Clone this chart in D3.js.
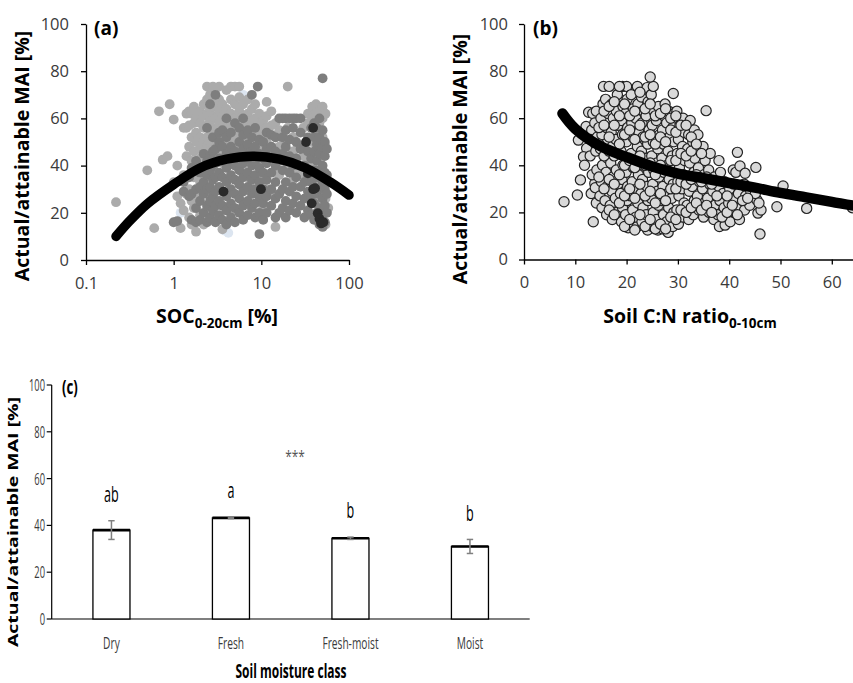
<!DOCTYPE html>
<html><head><meta charset="utf-8">
<script src="https://cdn.jsdelivr.net/npm/d3@7"></script>
<style>
html,body{margin:0;padding:0;background:#fff;}
svg{display:block;font-family:"Open Sans",sans-serif;}
</style></head>
<body>
<svg id="chart" width="853" height="683"></svg>
<script>
// ---------------- DATA ----------------
const yTicks = [0, 20, 40, 60, 80, 100];
const xTicksA = [0.1, 1, 10, 100];
const xTickLabelsA = ["0.1", "1", "10", "100"];
const xTicksB = [0, 10, 20, 30, 40, 50, 60];

// Panel (a): SOC 0-20cm [%] vs Actual/attainable MAI [%]
const lightA = [
[0.22,24.5],[0.5,38],[0.6,13.5],[0.68,63],[0.75,42.5],[0.85,44],[0.9,66],[1.0,59.5],[1.0,33],[1.1,27],[1.1,40],[1.2,13.5],[1.2,24],[1.3,36],[1.3,21],[1.3,56],
[1.4,56],[1.4,62],[1.4,28],[1.4,44],[1.5,57],[1.5,63],[1.5,48],[1.5,30],[1.5,18],[1.6,62],[1.6,52],[1.6,42],[1.6,25],[1.6,15],
[1.7,65],[1.7,58],[1.7,46],[1.7,35],[1.7,22],[1.8,12],[1.8,60],[1.8,54],[1.8,50],[1.8,38],[1.8,28],
[2.0,63],[2.0,58],[2.0,52],[2.0,47],[2.0,43],[2.0,33],[2.0,19],
[2.2,66],[2.2,61],[2.2,56],[2.2,50],[2.2,45],[2.2,40],[2.2,36],[2.2,15],
[2.4,73.5],[2.4,68],[2.4,62],[2.4,57],[2.4,52],[2.4,48],[2.4,44],[2.4,30],
[2.6,70],[2.6,64],[2.6,59],[2.6,55],[2.6,50],[2.6,46],[2.6,41],[2.6,27],
[2.8,73.5],[2.8,67],[2.8,61],[2.8,56],[2.8,52],[2.8,47],[2.8,38],
[3.0,65],[3.0,60],[3.0,55],[3.0,50],[3.0,44],[3.0,18],
[3.3,73.5],[3.3,68],[3.3,63],[3.3,58],[3.3,53],[3.3,48],[3.3,43],
[3.6,66],[3.6,61],[3.6,56],[3.6,51],[3.6,46],[3.6,41],[3.6,13],
[4.0,72],[4.0,64],[4.0,59],[4.0,54],[4.0,49],[4.0,44],
[4.5,73.5],[4.5,68],[4.5,62],[4.5,57],[4.5,52],[4.5,47],[4.5,20],
[5.0,73.5],[5.0,66],[5.0,60],[5.0,55],[5.0,50],[5.0,45],[5.0,40],
[5.6,73.5],[5.6,69],[5.6,63],[5.6,58],[5.6,53],[5.6,48],
[6.2,66],[6.2,61],[6.2,56],[6.2,51],[6.2,38],
[7.0,68],[7.0,62],[7.0,57],[7.0,52],[7.0,46],[7.0,35],
[7.8,64],[7.8,59],[7.8,54],[7.8,48],[7.8,30],
[8.5,66],[8.5,60],[8.5,55],[8.5,50],[8.5,44],
[9.5,62],[9.5,57],[9.5,52],[9.5,40],[9.5,25],
[10.5,59],[10.5,54],[10.5,48],[10.5,36],[10.5,22],
[11.5,67],[11.5,61],[11.5,56],[11.5,50],[11.5,30],
[13,63],[13,57],[13,44],[13,28],
[14.5,58],[14.5,52],[14.5,38],[14.5,14],
[16,55],[16,48],[16,36],[18,50],[18,45],[20,73.5],[20,56],[20,40],[23,52],[23,46],[23,34],[26,48],[26,38],
[30,44],[30,36],[30,56],[34,62],[34,58],[34,42],[38,65],[38,60],[38,50],[38,40],
[42,66],[42,62],[42,54],[42,34],[42,24],[46,63],[46,58],[46,46],[46,28],[46,18],
[50,65],[50,60],[50,52],[50,44],[50,30],[50,22],[54,62],[54,48],[54,36],[54,26],[54,15],[58,22]
];
const blueA = [[1.2,20],[4.2,11.5],[6.2,70],[3.8,12.5]];
const midA = [
[1.0,16],[1.1,16.5],[1.3,29],[1.3,33],[1.5,27],[1.5,35],[1.6,17],[1.6,28],[1.6,39],
[1.8,16],[1.8,22],[1.8,30],[1.8,42],[2.0,17],[2.0,25],[2.0,31],[2.0,37],
[2.2,20],[2.2,28],[2.2,33],[2.2,39],[2.2,45],[2.4,16],[2.4,23],[2.4,30],[2.4,36],[2.4,42],[2.4,56],
[2.6,18],[2.6,25],[2.6,31],[2.6,38],[2.6,44],[2.6,66],[2.8,21],[2.8,27],[2.8,34],[2.8,40],[2.8,46],[2.8,52],
[3.0,16],[3.0,23],[3.0,29],[3.0,35],[3.0,41],[3.0,47],[3.0,70],
[3.3,19],[3.3,25],[3.3,31],[3.3,37],[3.3,43],[3.3,50],[3.3,54],
[3.6,17],[3.6,23],[3.6,29],[3.6,35],[3.6,42],[3.6,48],[3.6,55],
[4.0,15],[4.0,21],[4.0,27],[4.0,33],[4.0,39],[4.0,45],[4.0,52],[4.0,60],
[4.5,18],[4.5,24],[4.5,30],[4.5,36],[4.5,42],[4.5,48],[4.5,54],
[5.0,16],[5.0,22],[5.0,28],[5.0,34],[5.0,40],[5.0,46],[5.0,58],
[5.6,20],[5.6,26],[5.6,32],[5.6,38],[5.6,44],[5.6,50],[5.6,56],
[6.2,17],[6.2,23],[6.2,29],[6.2,35],[6.2,41],[6.2,47],[6.2,53],[6.2,60],
[7.0,19],[7.0,25],[7.0,31],[7.0,37],[7.0,43],[7.0,49],[7.0,55],
[7.8,22],[7.8,28],[7.8,34],[7.8,40],[7.8,46],[7.8,52],[7.8,70],
[8.5,18],[8.5,24],[8.5,30],[8.5,36],[8.5,42],[8.5,48],[8.5,56],
[9.5,11],[9.5,20],[9.5,27],[9.5,33],[9.5,39],[9.5,45],[9.5,51],[9.1,73.5],
[10.5,17],[10.5,24],[10.5,30],[10.5,37],[10.5,43],[10.5,50],
[11.5,20],[11.5,27],[11.5,34],[11.5,41],[11.5,47],[11.5,54],
[13,23],[13,30],[13,37],[13,48],[13,53],[14.5,18],[14.5,26],[14.5,33],[14.5,40],[14.5,46],[14.5,52],
[16,20],[16,28],[16,42],[16,60],[17.5,22],[17.5,30],[17.5,38],[17.5,45],[17.5,52],[17.5,60],
[19,18],[19,25],[19,33],[19,48],[19,55],[19,60],[21,21],[21,29],[21,37],[21,44],[21,51],[21,60],
[23,24],[23,31],[23,40],[23,56],[23,60],[25,20],[25,27],[25,35],[25,43],[25,50],[25,60],
[28,23],[28,31],[28,47],[28,54],[28,60],[31,18],[31,26],[31,33],[31,40],[31,48],
[34,21],[34,29],[34,36],[34,46],[34,52],[37,19],[37,27],[37,33],[37,43],[37,56],
[40,17],[40,24],[40,31],[40,38],[40,46],[40,52],[40,58],[43,20],[43,28],[43,35],[43,42],[43,49],[43,56],
[46,15],[46,22],[46,30],[46,38],[46,45],[46,52],[46,60],[50,14],[50,19],[50,26],[50,33],[50,40],[50,48],[50,55],
[53,16],[53,23],[53,30],[53,37],[53,44],[53,50],[56,20],[56,28],[56,36],[56,47],[50,77]
];
const darkA = [[3.7,29],[9.9,30],[32.3,50],[39,56],[34,36.7],[39,30],[41,30.4],[37.5,24],[44,19.8],[46,17.5],[48,15.5],[51,16]];
// fitted trend
const trendA = [[0.22,10],[0.316,16.6],[0.5,23.8],[1,32],[2,39],[4,42.7],[8,44],[16,42.7],[32,39],[63,32.7],[100,27.5]];

// Panel (b): Soil C:N ratio 0-10cm vs Actual/attainable MAI [%]
const ptsB = [
[7.8,24.5],[10.4,27.4],[11,33.8],[13.5,16],[10.6,50.7],[12.2,47.2],[11.6,43.6],[13.8,32.3],[14.2,28],[12.1,56.5],[12.6,62.5],[11.8,40],
[13.1,28],[13.3,36],[12.9,44],[13.2,55],[13.4,62],[13.0,51],
[14.1,24],[13.9,30.5],[14.2,38],[14.0,46],[14.3,52],[13.8,58],[14.1,63],
[15.2,22],[14.8,27],[15.1,33],[15.3,40],[14.9,47],[15.2,53],[15.0,60],[15.4,66],[15.5,73.5],
[16.1,19],[15.8,25],[16.2,31],[16.0,37],[16.3,43],[15.9,49],[16.1,56],[16.4,62],[15.9,68],[16.6,73.5],
[17.2,17],[16.8,23],[17.1,29],[17.3,35],[16.9,41],[17.2,48],[17.0,54],[17.4,60],[17.1,66],
[18.1,20],[17.8,26],[18.3,32],[18.0,38],[18.2,45],[17.9,51],[18.3,57],[18.0,63],[18.2,70],
[19.0,16],[19.2,22],[18.8,28],[19.1,34],[19.3,40],[18.9,46],[19.2,53],[19.0,59],[19.3,65],[19.2,73.5],
[20.3,13.5],[19.8,19],[20.1,25],[20.2,31],[19.9,37],[20.3,43],[20.0,50],[20.2,56],[19.8,62],[20.1,68],[20.0,73.5],
[21.0,15],[21.2,21],[20.8,27],[21.1,33],[21.3,39],[20.9,45],[21.2,52],[21.0,58],[21.3,64],[20.9,70],
[22.1,14],[21.8,18],[22.2,24],[22.0,30],[22.3,36],[21.9,42],[22.1,48],[22.4,54],[21.8,60],[22.2,66],[22.1,73.5],
[23.0,16],[23.2,22],[22.8,28],[23.1,34],[23.3,40],[22.9,46],[23.2,52],[23.0,58],[23.3,63],[22.9,69],
[24.1,12.5],[23.8,19],[24.2,25],[24.0,31],[24.3,37],[23.9,43],[24.1,49],[24.4,55],[23.8,61],[24.2,67],[24.0,73],
[25.0,14],[25.2,20],[24.8,26],[25.1,32],[25.3,38],[24.9,44],[25.2,50],[25.0,57],[25.3,63],[24.8,70],[25.2,73.5],[24.6,77.5],
[26.1,12.5],[25.8,17],[26.2,23],[26.0,29],[26.3,35],[25.9,41],[26.1,47],[26.4,53],[25.8,59],[26.2,65],
[27.0,13],[27.2,19],[26.8,25],[27.1,31],[27.3,37],[26.9,43],[27.2,49],[27.0,55],[27.3,61],[27.5,66],
[28.1,11.5],[27.8,16],[28.2,22],[28.0,28],[28.3,34],[27.9,40],[28.1,46],[28.4,52],[27.8,58],[28.2,63],
[29.0,14],[29.2,20],[28.8,26],[29.1,32],[29.3,38],[28.9,44],[29.2,50],[29.0,56],[29.3,62],[29.1,70.5],
[30.1,15],[29.8,21],[30.2,27],[30.0,33],[30.3,39],[29.9,45],[30.1,51],[30.4,57],[29.8,63],
[31.0,18],[31.2,24],[30.8,30],[31.1,36],[31.3,42],[30.9,48],[31.2,54],[31.0,60],
[32.1,17],[31.8,23],[32.2,29],[32.0,35],[32.3,41],[31.9,47],[32.1,53],[32.4,59],
[33.0,19],[33.2,25],[32.8,31],[33.1,37],[33.3,43],[32.9,50],[33.2,55],
[34.1,21],[33.8,27],[34.2,33],[34.0,39],[34.3,46],[33.9,53],
[35.0,18],[35.2,24],[34.8,30],[35.1,36],[35.3,42],[34.9,48],[35.5,63.2],
[36.1,20],[35.8,26],[36.2,32],[36.0,38],[36.3,45],
[37.0,17],[37.2,23],[36.8,29],[37.1,35],
[38.1,14],[37.8,19],[38.2,25],[38.0,31],[38.3,37],[38.0,42],
[39.2,14.6],[39.0,22],[38.8,28],[39.1,33],
[40.2,16],[39.9,24],[40.1,30],[40.8,38],
[41.0,20],[41.2,26],[40.9,32],[41.3,37],
[42.1,39.7],[41.6,45.5],[42.0,17],[42.2,22],[41.8,28],
[43.1,36.6],[43.0,21],[43.2,27],[42.9,32],
[44.0,23],[44.2,29],
[45.2,39.1],[45.4,25.3],[45.6,19.7],[45.1,28],
[46,10.8],[46.2,21],[45.8,24],[49.3,22.4],[50.5,31.2],[55.1,21.7],[64,22],
[14.6,35],[14.6,49],[14.6,56],[15.6,30],[15.6,44],[15.6,57],[15.6,63],[16.6,21],[16.6,34],[16.6,46],[16.6,52],[16.6,65],
[17.6,19],[17.6,32],[17.6,44],[17.6,57],[17.6,67],[18.6,24],[18.6,36],[18.6,49],[18.6,61],[18.6,73.5],
[19.6,14],[19.6,27],[19.6,40],[19.6,53],[19.6,66],[20.6,17],[20.6,30],[20.6,42],[20.6,55],[20.6,61],
[21.6,12.5],[21.6,26],[21.6,39],[21.6,51],[21.6,63],[22.6,19],[22.6,32],[22.6,44],[22.6,57],[22.6,71],
[23.6,14],[23.6,27],[23.6,40],[23.6,52],[23.6,64],[24.6,17],[24.6,29],[24.6,41],[24.6,53],[24.6,66],
[25.6,13],[25.6,24],[25.6,36],[25.6,49],[25.6,61],[26.6,15],[26.6,28],[26.6,40],[26.6,52],[26.6,62],
[27.6,13],[27.6,25],[27.6,38],[27.6,50],[27.6,64],[28.6,18],[28.6,30],[28.6,42],[28.6,55],[28.6,60],
[29.6,17],[29.6,30],[29.6,42],[29.6,54],[29.6,61],[30.6,21],[30.6,33],[30.6,45],[30.6,57],
[31.6,20],[31.6,32],[31.6,44],[31.6,57],[32.6,22],[32.6,34],[32.6,46],[32.6,52],
[33.6,24],[33.6,36],[33.6,49],[34.6,21],[34.6,33],[34.6,45],[35.6,23],[35.6,35],[36.6,20],[36.6,32],
[37.6,27],[38.6,18],[39.6,20],[39.6,27],[40.6,23],[41.6,19],[42.6,25],[43.6,26]
];
const trendB = [[7.5,62],[10,55.5],[15,48],[20,43.5],[25,39.5],[30,36.5],[35,34.5],[40,32.5],[45,30.5],[50,28.3],[55,26.4],[60,24.5],[65,22.6],[70,21]];

// Panel (c): soil moisture class bars
const cats = ["Dry", "Fresh", "Fresh-moist", "Moist"];
const means = [38, 43.2, 34.5, 31];
const errs = [4, 0.3, 0.5, 3];
const letters = ["ab", "a", "b", "b"];

// ---------------- DRAW ----------------
const svg = d3.select("#chart");
const tickCol = "#3a3a3a";

function styleAxis(g){
  g.select(".domain").attr("stroke","#000").attr("stroke-width",1.3);
  g.selectAll(".tick line").attr("stroke","#000").attr("stroke-width",1.3);
  g.selectAll(".tick text").attr("fill",tickCol).style("font-size","16.5px").style("font-family","'Open Sans',sans-serif");
}

// ===== Panel (a) =====
const xA = d3.scaleLog().domain([0.1,100]).range([86,349]);
const yA = d3.scaleLinear().domain([0,100]).range([260,24]);
const gA = svg.append("g");
const dotsA = gA.append("g");
const rA = 4.9;
dotsA.selectAll(".bl").data(blueA).join("circle").attr("cx",d=>xA(d[0])).attr("cy",d=>yA(d[1])).attr("r",rA).attr("fill","#dce5f0");
dotsA.selectAll(".lt").data(lightA).join("circle").attr("class","lt").attr("cx",d=>xA(d[0])).attr("cy",d=>yA(d[1])).attr("r",rA).attr("fill","#ababab");
dotsA.selectAll(".md").data(midA).join("circle").attr("class","md").attr("cx",d=>xA(d[0])).attr("cy",d=>yA(d[1])).attr("r",rA).attr("fill","#7e7e7e");
dotsA.selectAll(".dk").data(darkA).join("circle").attr("class","dk").attr("cx",d=>xA(d[0])).attr("cy",d=>yA(d[1])).attr("r",rA).attr("fill","#2a2a2a");
gA.append("path").datum(trendA)
  .attr("d", d3.line().x(d=>xA(d[0])).y(d=>yA(d[1])).curve(d3.curveCatmullRom))
  .attr("fill","none").attr("stroke","#000").attr("stroke-width",9.5).attr("stroke-linecap","round");
gA.append("g").attr("transform","translate(86,0)")
  .call(d3.axisLeft(yA).tickValues(yTicks).tickSize(5).tickPadding(12).tickSizeOuter(0)).call(styleAxis);
gA.append("g").attr("transform","translate(0,260)")
  .call(d3.axisBottom(xA).tickValues(xTicksA).tickFormat((d,i)=>xTickLabelsA[i]).tickSize(5).tickPadding(12).tickSizeOuter(0)).call(styleAxis);
gA.append("text").attr("x",94).attr("y",35).attr("font-weight","bold").attr("font-size",19).text("(a)");
gA.append("text").attr("transform","translate(29,156) rotate(-90)").attr("text-anchor","middle")
  .attr("font-weight","bold").attr("font-size",19.5).text("Actual/attainable MAI [%]");
{
  const t = gA.append("text").attr("x",217).attr("y",323).attr("text-anchor","middle").attr("font-weight","bold").attr("font-size",19.5);
  t.append("tspan").text("SOC");
  t.append("tspan").attr("font-size",13.5).attr("dy",5).text("0-20cm");
  t.append("tspan").attr("dy",-5).text(" [%]");
}

// ===== Panel (b) =====
const xB = d3.scaleLinear().domain([0,70]).range([524, 883.1]);
const yB = d3.scaleLinear().domain([0,100]).range([259.5,24]);
const gB = svg.append("g");
gB.append("g").selectAll("circle").data(ptsB).join("circle")
  .attr("cx",d=>xB(d[0])).attr("cy",d=>yB(d[1])).attr("r",5.1)
  .attr("fill","#d9d9d9").attr("stroke","#222").attr("stroke-width",1.2);
gB.append("path").datum(trendB)
  .attr("d", d3.line().x(d=>xB(d[0])).y(d=>yB(d[1])).curve(d3.curveCatmullRom))
  .attr("fill","none").attr("stroke","#000").attr("stroke-width",10.5).attr("stroke-linecap","round");
gB.append("g").attr("transform","translate(524,0)")
  .call(d3.axisLeft(yB).tickValues(yTicks).tickSize(5).tickPadding(11).tickSizeOuter(0)).call(styleAxis);
gB.append("g").attr("transform","translate(0,259.5)")
  .call(d3.axisBottom(xB).tickValues(xTicksB).tickSize(5).tickPadding(12).tickSizeOuter(0)).call(styleAxis);
gB.append("text").attr("x",533).attr("y",35).attr("font-weight","bold").attr("font-size",19).text("(b)");
gB.append("text").attr("transform","translate(467,159) rotate(-90)").attr("text-anchor","middle")
  .attr("font-weight","bold").attr("font-size",19.5).text("Actual/attainable MAI [%]");
{
  const t = gB.append("text").attr("x",690).attr("y",323).attr("text-anchor","middle").attr("font-weight","bold").attr("font-size",19.5);
  t.append("tspan").text("Soil C:N ratio");
  t.append("tspan").attr("font-size",13.5).attr("dy",5).text("0-10cm");
}

// ===== Panel (c) =====
const xC = d3.scaleBand().domain(cats).range([51.7, 529.7]).paddingInner(0.69).paddingOuter(0.345);
const yC = d3.scaleLinear().domain([0,100]).range([619,385]);
const gC = svg.append("g");
const sq = 0.6; // horizontal squeeze of the lower panel's lettering
gC.append("line").attr("x1",51.7).attr("x2",51.7).attr("y1",yC(100)).attr("y2",yC(0)).attr("stroke","#000").attr("stroke-width",1.2);
gC.append("line").attr("x1",51.7).attr("x2",529.7).attr("y1",yC(0)).attr("y2",yC(0)).attr("stroke","#000").attr("stroke-width",1.2);
gC.selectAll(".yt").data(yTicks).join("line").attr("x1",46.7).attr("x2",51.7)
  .attr("y1",d=>yC(d)).attr("y2",d=>yC(d)).attr("stroke","#000").attr("stroke-width",1.2);
gC.selectAll(".ytl").data(yTicks).join("text")
  .attr("transform",d=>`translate(45,${yC(d)+6}) scale(0.55,1)`).attr("text-anchor","end")
  .attr("font-size",17).attr("fill",tickCol).text(d=>d);
// bars
gC.selectAll(".bar").data(cats).join("rect")
  .attr("x",d=>xC(d)).attr("width",xC.bandwidth())
  .attr("y",(d,i)=>yC(means[i])).attr("height",(d,i)=>yC(0)-yC(means[i]))
  .attr("fill","#fff").attr("stroke","#000").attr("stroke-width",1.3);
gC.selectAll(".bartop").data(cats).join("line")
  .attr("x1",d=>xC(d)).attr("x2",d=>xC(d)+xC.bandwidth())
  .attr("y1",(d,i)=>yC(means[i])).attr("y2",(d,i)=>yC(means[i]))
  .attr("stroke","#000").attr("stroke-width",2.6);
// error bars
const eb = gC.selectAll(".eb").data(cats).join("g");
eb.append("line").attr("x1",d=>xC(d)+xC.bandwidth()/2).attr("x2",d=>xC(d)+xC.bandwidth()/2)
  .attr("y1",(d,i)=>yC(means[i]+errs[i])).attr("y2",(d,i)=>yC(means[i]-errs[i]))
  .attr("stroke","#808080").attr("stroke-width",1.5);
eb.append("line").attr("x1",d=>xC(d)+xC.bandwidth()/2-3.2).attr("x2",d=>xC(d)+xC.bandwidth()/2+3.2)
  .attr("y1",(d,i)=>yC(means[i]+errs[i])).attr("y2",(d,i)=>yC(means[i]+errs[i]))
  .attr("stroke","#808080").attr("stroke-width",1.5);
eb.append("line").attr("x1",d=>xC(d)+xC.bandwidth()/2-3.2).attr("x2",d=>xC(d)+xC.bandwidth()/2+3.2)
  .attr("y1",(d,i)=>yC(means[i]-errs[i])).attr("y2",(d,i)=>yC(means[i]-errs[i]))
  .attr("stroke","#808080").attr("stroke-width",1.5);
// significance letters
gC.selectAll(".let").data(cats).join("text")
  .attr("transform",(d,i)=>`translate(${xC(d)+xC.bandwidth()/2},${yC(means[i]+errs[i]+8)}) scale(0.6,1)`)
  .attr("text-anchor","middle").attr("font-size",21).attr("fill","#000").text((d,i)=>letters[i]);
// category labels
gC.selectAll(".cat").data(cats).join("text")
  .attr("transform",d=>`translate(${xC(d)+xC.bandwidth()/2},649) scale(${sq},1)`)
  .attr("text-anchor","middle").attr("font-size",17).attr("fill",tickCol).text(d=>d);
gC.append("text").attr("transform","translate(295,462) scale(0.7,1)").attr("text-anchor","middle")
  .attr("font-size",17).attr("fill","#555").text("***");
gC.append("text").attr("transform","translate(62,394) scale(0.7,1)").attr("font-weight","bold").attr("font-size",19).text("(c)");
gC.append("text").attr("transform","translate(18,522) scale(0.72,1) rotate(-90)").attr("text-anchor","middle")
  .attr("font-weight","bold").attr("font-size",19.5).text("Actual/attainable MAI [%]");
gC.append("text").attr("transform","translate(291,678) scale(0.6,1)").attr("text-anchor","middle")
  .attr("font-weight","bold").attr("font-size",20).text("Soil moisture class");
</script>
</body></html>
